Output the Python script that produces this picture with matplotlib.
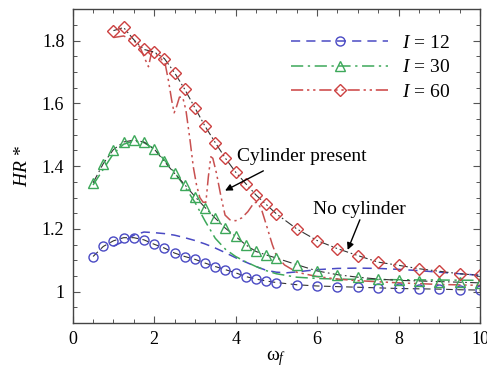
import numpy as np
import matplotlib
matplotlib.use("Agg")
import matplotlib.pyplot as plt
from matplotlib.lines import Line2D
from matplotlib.ticker import MultipleLocator, FuncFormatter

plt.rcParams['font.family'] = ['Liberation Serif', 'DejaVu Serif']
plt.rcParams['mathtext.fontset'] = 'custom'
plt.rcParams['mathtext.rm'] = 'Liberation Serif'
plt.rcParams['mathtext.it'] = 'Liberation Serif:italic'

# frequency grid used for the marker series
w_fine = [0.5, 0.75, 1.0, 1.25, 1.5, 1.75, 2.0, 2.25, 2.5, 2.75, 3.0, 3.25, 3.5,
          3.75, 4.0, 4.25, 4.5, 4.75, 5.0, 5.5, 6.0, 6.5, 7.0, 7.5, 8.0, 8.5,
          9.0, 9.5, 10.0]
w_60 = w_fine[2:]

# no cylinder (markers)
hr12_free = [1.112, 1.144, 1.162, 1.172, 1.172, 1.165, 1.151, 1.139, 1.123,
             1.112, 1.103, 1.091, 1.080, 1.070, 1.060, 1.048, 1.040, 1.034,
             1.029, 1.022, 1.018, 1.016, 1.014, 1.012, 1.010, 1.009, 1.008,
             1.006, 1.005]
hr30_free = [1.347, 1.408, 1.453, 1.477, 1.483, 1.477, 1.455, 1.415, 1.377,
             1.341, 1.303, 1.268, 1.234, 1.202, 1.176, 1.149, 1.128, 1.117,
             1.107, 1.086, 1.066, 1.054, 1.046, 1.040, 1.036, 1.034, 1.032,
             1.030, 1.028]
hr60_free = [1.832, 1.842, 1.803, 1.772, 1.764, 1.743, 1.698, 1.645, 1.586,
             1.527, 1.475, 1.425, 1.381, 1.344, 1.308, 1.278, 1.248, 1.200,
             1.163, 1.137, 1.115, 1.094, 1.084, 1.073, 1.065, 1.057, 1.052]

# cylinder present (lines only)
w12_cyl = [1.0, 1.25, 1.5, 1.75, 2.0, 2.25, 2.5, 2.75, 3.0, 3.25, 3.5, 3.75,
           4.0, 4.25, 4.5, 4.75, 5.0, 5.25, 5.5, 6.0, 6.5, 7.0, 7.5, 8.0, 8.5,
           9.0, 9.5, 10.0]
hr12_cyl = [1.145, 1.160, 1.180, 1.190, 1.188, 1.185, 1.180, 1.172, 1.163,
            1.152, 1.139, 1.124, 1.108, 1.094, 1.080, 1.068, 1.062, 1.060,
            1.063, 1.070, 1.074, 1.075, 1.074, 1.071, 1.067, 1.062, 1.057,
            1.052]
w30_cyl = [0.5, 0.75, 1.0, 1.25, 1.5, 1.75, 2.0, 2.25, 2.5, 2.75, 3.0, 3.25,
           3.5, 3.75, 4.0, 4.25, 4.5, 4.75, 5.0, 5.5, 6.0, 6.5, 7.0, 8.0, 9.0,
           10.0]
hr30_cyl = [1.340, 1.390, 1.440, 1.470, 1.480, 1.475, 1.455, 1.420, 1.380,
            1.335, 1.285, 1.225, 1.170, 1.135, 1.112, 1.095, 1.080, 1.067,
            1.057, 1.046, 1.042, 1.040, 1.039, 1.038, 1.037, 1.036]
w60_cyl = [1.0, 1.25, 1.5, 1.65, 1.78, 1.86, 1.94, 2.02, 2.15, 2.27, 2.35,
           2.43, 2.49, 2.55, 2.62, 2.7, 2.78, 2.88, 2.96, 3.04, 3.12, 3.2,
           3.27, 3.33, 3.39, 3.44, 3.53, 3.64, 3.74, 3.86, 4.0, 4.15, 4.3,
           4.45, 4.53, 4.64, 4.76, 4.9, 5.0, 5.2, 5.5, 6.0, 6.5, 7.0, 8.0,
           9.0, 10.0]
hr60_cyl = [1.810, 1.815, 1.800, 1.780, 1.740, 1.717, 1.765, 1.760, 1.745,
            1.726, 1.673, 1.610, 1.570, 1.590, 1.620, 1.620, 1.578, 1.483,
            1.398, 1.340, 1.300, 1.285, 1.285, 1.366, 1.430, 1.425, 1.377,
            1.303, 1.244, 1.229, 1.226, 1.235, 1.255, 1.283, 1.285, 1.260,
            1.210, 1.150, 1.115, 1.085, 1.062, 1.048, 1.040, 1.035, 1.028,
            1.023, 1.020]

blue = '#4a4ac4'
green = '#3da85a'
red = '#cc4040'
dark = '#333333'
ls12 = (0, (6, 4))
ls30 = (0, (8, 3, 1.5, 3))
ls60 = (0, (8, 2.5, 1.5, 2.5, 1.5, 2.5))

fig = plt.figure(figsize=(4.87, 3.72), dpi=100)
ax = fig.add_axes([0.1493, 0.1317, 0.8364, 0.8433])

ax.plot(w12_cyl, hr12_cyl, color=blue, ls=ls12, lw=1.1)
ax.plot(w30_cyl, hr30_cyl, color=green, ls=ls30, lw=1.1)
ax.plot(w60_cyl, hr60_cyl, color='#c85050', ls=ls60, lw=1.1)

ax.plot(w_fine, hr12_free, color=dark, ls=ls12, lw=0.8, marker='o', ms=6.5,
        mfc='none', mec=blue, mew=1.0)
ax.plot(w_fine, hr30_free, color=dark, ls=ls30, lw=0.8, marker='^', ms=7,
        mfc='none', mec=green, mew=1.0)
ax.plot(w_60, hr60_free, color=dark, ls=ls60, lw=0.8, marker='D', ms=6,
        mfc='none', mec=red, mew=1.0)

handles = [
    Line2D([], [], color=blue, ls=ls12, lw=1.1, marker='o', ms=6.5, mfc='none', mec=blue),
    Line2D([], [], color=green, ls=ls30, lw=1.1, marker='^', ms=7, mfc='none', mec=green),
    Line2D([], [], color=red, ls=ls60, lw=1.1, marker='D', ms=6, mfc='none', mec=red),
]
labels = [r'$I$ = 12', r'$I$ = 30', r'$I$ = 60']
ax.legend(handles, labels, loc='upper right', bbox_to_anchor=(0.945, 0.945),
          frameon=False, fontsize=14, numpoints=1, handlelength=5.0,
          handletextpad=0.7, labelspacing=0.35, borderaxespad=0)

# annotations with arrows
ax.text(5.62, 1.43, 'Cylinder present', fontsize=14, ha='center', va='center')
ax.annotate('', xy=(3.74, 1.322), xytext=(4.68, 1.385),
            arrowprops=dict(arrowstyle='-|>', color='black', lw=1.0,
                            shrinkA=0, shrinkB=0, mutation_scale=10))
ax.text(7.03, 1.262, 'No cylinder', fontsize=14, ha='center', va='center')
ax.annotate('', xy=(6.75, 1.133), xytext=(7.05, 1.229),
            arrowprops=dict(arrowstyle='-|>', color='black', lw=1.0,
                            shrinkA=0, shrinkB=0, mutation_scale=10))

ax.set_xlim(0, 10)
ax.set_ylim(0.9, 1.9)
ax.xaxis.set_major_locator(MultipleLocator(2))
ax.xaxis.set_minor_locator(MultipleLocator(0.5))
ax.yaxis.set_major_locator(MultipleLocator(0.2))
ax.yaxis.set_minor_locator(MultipleLocator(0.05))
ax.yaxis.set_major_formatter(FuncFormatter(lambda v, p: '%g' % round(v, 2)))
ax.set_yticks([1.0, 1.2, 1.4, 1.6, 1.8])
ax.tick_params(which='both', direction='in', top=True, right=True,
               labelsize=13, color='#555555')
ax.tick_params(which='major', length=5, width=0.8, pad=6)
ax.tick_params(which='minor', length=3, width=0.7)
for sp in ax.spines.values():
    sp.set_linewidth(1.0)
    sp.set_color('#444444')

ax.set_xlabel('ω$_f$', fontsize=14, labelpad=0)
ax.set_ylabel(r'$HR$ *', fontsize=14, labelpad=8)

fig.savefig('out.png', dpi=100)
